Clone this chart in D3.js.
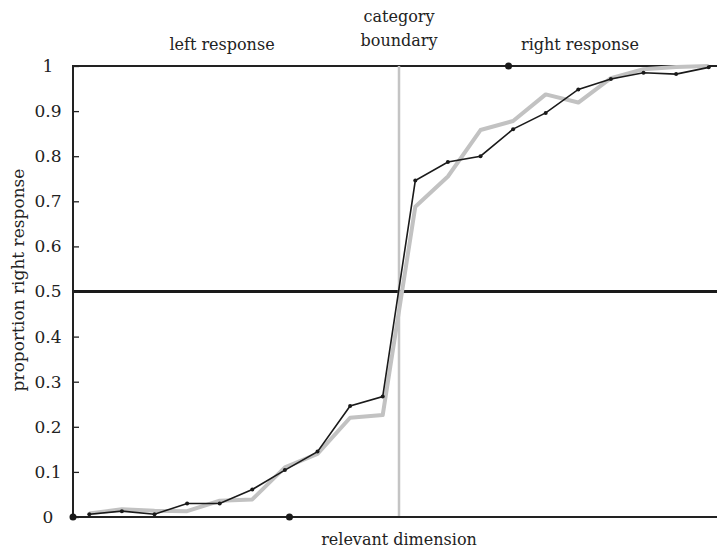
<!DOCTYPE html>
<html>
<head>
<meta charset="utf-8">
<script src="https://cdn.jsdelivr.net/npm/d3@7"></script>
<style>
  body { margin: 0; background: #fff; }
</style>
</head>
<body>
<svg id="canvas"></svg>
<script>
// stimulus positions along the relevant dimension (20 steps)
const steps = d3.range(20)
// thick gray curve
const grayValues = [0.008, 0.017, 0.014, 0.013, 0.036, 0.039, 0.11, 0.14, 0.22, 0.226,
                    0.688, 0.755, 0.858, 0.878, 0.937, 0.919, 0.973, 0.993, 0.998, 1.0]
// thin black curve with dots
const blackValues = [0.006, 0.013, 0.006, 0.03, 0.03, 0.061, 0.104, 0.145, 0.246, 0.267,
                     0.746, 0.787, 0.8, 0.86, 0.896, 0.948, 0.971, 0.985, 0.982, 0.997]
const yTicks = [0, 0.1, 0.2, 0.3, 0.4, 0.5, 0.6, 0.7, 0.8, 0.9, 1]
const boundary = 9.5
// filled markers on the axes: [x position, y value]
const axisDots = [[-0.5, 0], [6.14, 0], [12.86, 1]]

const width = 717
const height = 551
const padLeft = 73
const padTop = 66
const padBottom = 517
const font = "'DejaVu Serif', 'Liberation Serif', serif"

const canvas = d3.select("#canvas").attr("width", width).attr("height", height)

const xScale = d3.scaleLinear().domain([-0.5, 19.5]).range([padLeft, padLeft + 20 * 32.6])
const yScale = d3.scaleLinear().domain([0, 1]).range([padBottom, padTop])

// horizontal reference lines
canvas.append("line")
  .attr("x1", padLeft).attr("x2", width)
  .attr("y1", yScale(1)).attr("y2", yScale(1))
  .attr("stroke", "#222").attr("stroke-width", 2)
canvas.append("line")
  .attr("x1", padLeft).attr("x2", width)
  .attr("y1", yScale(0.5)).attr("y2", yScale(0.5))
  .attr("stroke", "#1a1a1a").attr("stroke-width", 3)

// category boundary
canvas.append("line")
  .attr("x1", xScale(boundary)).attr("x2", xScale(boundary))
  .attr("y1", yScale(1)).attr("y2", yScale(0))
  .attr("stroke", "#c4c4c4").attr("stroke-width", 2.5)

// y axis
const yAxis = d3.axisRight(yScale).tickValues(yTicks).tickSize(6).tickFormat(d3.format("~g"))
const yg = canvas.append("g").attr("transform", "translate(" + padLeft + ",0)").call(yAxis)
yg.select(".domain").remove()
yg.selectAll(".tick line").attr("stroke", "#222").attr("stroke-width", 1.3)
yg.selectAll(".tick text")
  .attr("x", -25).attr("text-anchor", "middle")
  .style("font-size", "17px").style("font-family", font).attr("fill", "#222")
canvas.append("line")
  .attr("x1", padLeft).attr("x2", padLeft)
  .attr("y1", yScale(1) - 1).attr("y2", yScale(0))
  .attr("stroke", "#222").attr("stroke-width", 2)

// x axis
canvas.append("line")
  .attr("x1", padLeft).attr("x2", width)
  .attr("y1", yScale(0)).attr("y2", yScale(0))
  .attr("stroke", "#222").attr("stroke-width", 2)

const line = d3.line().x((d, i) => xScale(steps[i])).y(d => yScale(d))

canvas.append("path").datum(grayValues)
  .attr("d", line).attr("fill", "none")
  .attr("stroke", "#c2c2c2").attr("stroke-width", 4).attr("stroke-linejoin", "round")

canvas.append("path").datum(blackValues)
  .attr("d", line).attr("fill", "none")
  .attr("stroke", "#1a1a1a").attr("stroke-width", 1.6)

canvas.selectAll(".pt").data(blackValues).enter().append("circle")
  .attr("class", "pt")
  .attr("cx", (d, i) => xScale(steps[i])).attr("cy", d => yScale(d))
  .attr("r", 2).attr("fill", "#1a1a1a")

canvas.selectAll(".adot").data(axisDots).enter().append("circle")
  .attr("class", "adot")
  .attr("cx", d => xScale(d[0])).attr("cy", d => yScale(d[1]))
  .attr("r", 3.5).attr("fill", "#1a1a1a")

// labels
const label = (txt, x, y) => canvas.append("text")
  .attr("x", x).attr("y", y).attr("text-anchor", "middle")
  .style("font-family", font).style("font-size", "16px").attr("fill", "#222").text(txt)

label("left response", 222, 50)
label("category", xScale(boundary), 22)
label("boundary", xScale(boundary), 46)
label("right response", 580, 50)
label("relevant dimension", xScale(boundary), 545)

canvas.append("text")
  .attr("transform", "translate(24," + 280 + ") rotate(-90)")
  .attr("text-anchor", "middle")
  .style("font-family", font).style("font-size", "17px").attr("fill", "#222")
  .text("proportion right response")
</script>
</body>
</html>
